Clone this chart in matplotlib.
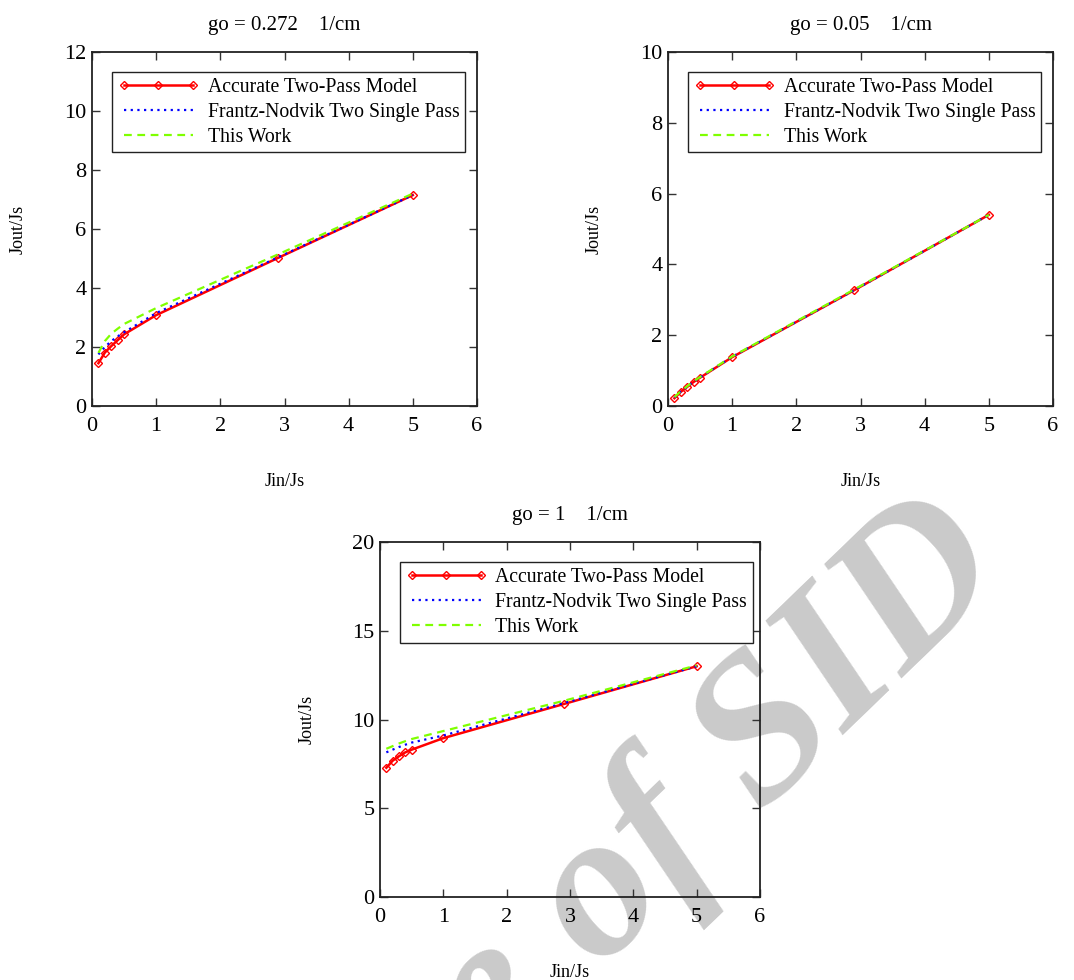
import matplotlib
matplotlib.use("Agg")
import matplotlib.pyplot as plt

plt.rcParams['font.family'] = ['Liberation Serif', 'DejaVu Serif']
plt.rcParams['mathtext.fontset'] = 'stix'

# ---------------- data ----------------
jin = [0.1, 0.2, 0.3, 0.4, 0.5, 1.0, 2.9, 5.0]

titles = ["go = 0.272    1/cm", "go = 0.05    1/cm", "go = 1    1/cm"]
ylims = [12, 10, 20]
yticks = [[0, 2, 4, 6, 8, 10, 12], [0, 2, 4, 6, 8, 10], [0, 5, 10, 15, 20]]
xticks = [0, 1, 2, 3, 4, 5, 6]

# go = 0.272
acc_272 = [1.45, 1.81, 2.03, 2.23, 2.43, 3.08, 5.02, 7.15]
fn_272 = [1.75, 2.0, 2.2, 2.36, 2.5, 3.15, 5.04, 7.15]
tw_272 = [1.8, 2.2, 2.45, 2.62, 2.78, 3.32, 5.14, 7.2]
# go = 0.05
acc_005 = [0.22, 0.40, 0.54, 0.68, 0.80, 1.38, 3.27, 5.4]
fn_005 = [0.24, 0.41, 0.55, 0.69, 0.81, 1.39, 3.27, 5.4]
tw_005 = [0.25, 0.42, 0.56, 0.70, 0.82, 1.40, 3.29, 5.4]
# go = 1
acc_1 = [7.28, 7.68, 7.93, 8.15, 8.3, 8.95, 10.87, 13.0]
fn_1 = [8.15, 8.3, 8.45, 8.58, 8.7, 9.1, 10.92, 13.0]
tw_1 = [8.35, 8.5, 8.65, 8.78, 8.9, 9.35, 11.05, 13.05]

series = [(acc_272, fn_272, tw_272), (acc_005, fn_005, tw_005), (acc_1, fn_1, tw_1)]
labels = ["Accurate Two-Pass Model", "Frantz-Nodvik Two Single Pass", "This Work"]

# ---------------- figure ----------------
W, H = 1074, 980
fig = plt.figure(figsize=(W / 100, H / 100), dpi=100)

def px_axes(l, t, r, b):
    return fig.add_axes([l / W, 1 - b / H, (r - l) / W, (b - t) / H])

axes = [px_axes(92, 52, 477, 406), px_axes(668, 52, 1053, 406), px_axes(380, 542, 760, 897)]

# watermark (drawn below axes)
fig.text(1015 / W, 1 - 580 / H, "Archive of SID", rotation=44, rotation_mode='anchor',
         ha='right', va='baseline', fontsize=150, style='italic', weight='bold',
         color='#cacaca', zorder=-5)

for ax, (acc, fn, tw), title, ylim, yt in zip(axes, series, titles, ylims, yticks):
    ax.set_facecolor('none')
    ax.plot(jin, acc, color='#ff0000', lw=1.8, marker='D', ms=4.5, mfc='none',
            mec='#ff0000', mew=1.0, label=labels[0])
    ax.plot(jin, fn, color='#0000ff', lw=1.6, ls=(0, (1, 2)), label=labels[1])
    ax.plot(jin, tw, color='#7fff00', lw=1.6, ls=(0, (3.5, 2.5)), label=labels[2])
    ax.set_xlim(0, 6)
    ax.set_ylim(0, ylim)
    ax.set_xticks(xticks)
    ax.set_yticks(yt)
    ax.tick_params(direction='in', top=True, right=True, length=6, width=1,
                   labelsize=16, color='#333333')
    ax.tick_params(axis='x', pad=8)
    ax.tick_params(axis='y', pad=4)
    for s in ax.spines.values():
        s.set_linewidth(1.3)
        s.set_color('#222222')
    ax.set_title(title, fontsize=15, pad=16)
    ax.set_xlabel("Jin/Js", fontsize=13)
    ax.set_ylabel("Jout/Js", fontsize=13)
    ax.xaxis.set_label_coords(0.5, -0.19)
    ax.yaxis.set_label_coords(-0.17, 0.5)
    leg = ax.legend(loc='upper left', bbox_to_anchor=(0.052, 0.944), fontsize=14.2,
                    numpoints=3, handlelength=4.1, handletextpad=0.45,
                    borderpad=0.3, labelspacing=0.3, borderaxespad=0,
                    fancybox=False, framealpha=1, edgecolor='#222222')
    leg.get_frame().set_linewidth(1.0)

fig.savefig("out.png", dpi=100)
